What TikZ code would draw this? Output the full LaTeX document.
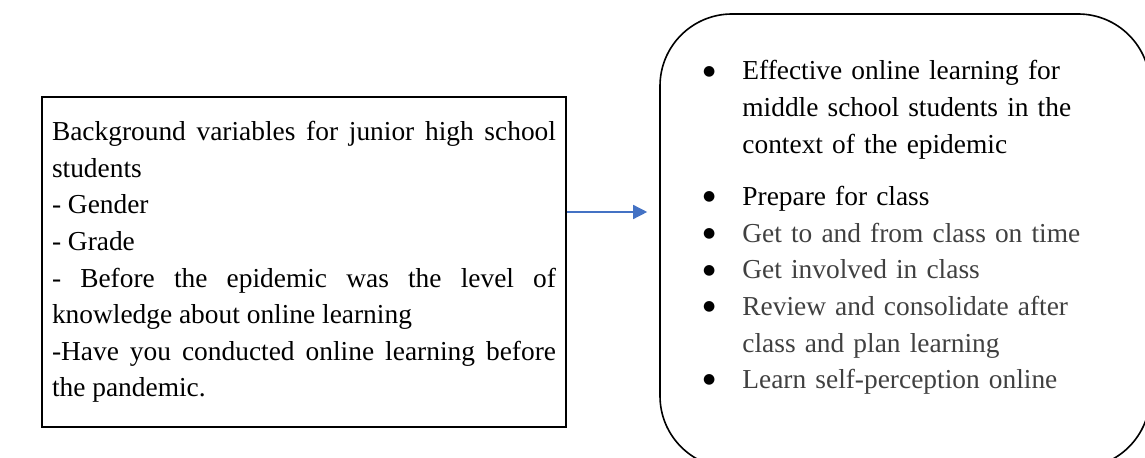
\documentclass[tikz,border=0pt]{standalone}
\usepackage{fontspec}
\setmainfont{Liberation Serif}
\newfontfamily\dotfont{DejaVu Sans}
\usetikzlibrary{arrows.meta}

\definecolor{arrowblue}{RGB}{68,114,196}
\definecolor{softgray}{RGB}{64,64,64}
\hyphenpenalty=10000
\exhyphenpenalty=10000

\newcommand{\bigdot}{\raisebox{2.4pt}{\dotfont\fontsize{7pt}{7pt}\selectfont ●}}
\newenvironment{dotlist}{\begin{list}{\bigdot}{\setlength{\leftmargin}{18.5pt}%
  \setlength{\labelwidth}{10pt}\setlength{\labelsep}{13.5pt}\setlength{\itemsep}{0pt}%
  \setlength{\parsep}{0pt}\setlength{\topsep}{0pt}\setlength{\partopsep}{0pt}}}{\end{list}}

\begin{document}
\begin{tikzpicture}[x=0.5pt,y=-0.5pt]
\tikzstyle{varbox}=[draw,line width=0.9pt,rectangle,minimum width=262pt,minimum height=165pt,
  text width=252pt,align=justify,font=\fontsize{13.7pt}{18.3pt}\selectfont]
\tikzstyle{resultbox}=[draw,line width=0.8pt,rectangle,rounded corners=36pt,minimum width=245pt,minimum height=227pt]
\tikzstyle{itemtext}=[anchor=north west,inner sep=0pt,text width=200pt,font=\fontsize{13.7pt}{18.3pt}\selectfont]
\tikzstyle{flow}=[draw=arrowblue,line width=0.7pt,-{Triangle[length=7pt,width=7pt]},shorten >=6pt]
\useasboundingbox (0,0) rectangle (1145,458);
\clip (0,0) rectangle (1145,458);

% background variables
\node[varbox] (inputs) at (304,262) {Background variables for junior high school students\\
- Gender\\
- Grade\\
- Before the epidemic was the level of knowledge about online learning\\
-Have you conducted online learning before the pandemic.};

% effective online learning
\node[resultbox] (outcomes) at (905,241) {};
\node[itemtext] (items) at (705,43) {\begin{dotlist}
\item Effective online learning for middle school students in the context of the epidemic\par\vspace{8pt}
\item Prepare for class
\item \textcolor{softgray}{Get to and from class on time}
\item \textcolor{softgray}{Get involved in class}
\item \textcolor{softgray}{Review and consolidate after class and plan learning}
\item \textcolor{softgray}{Learn self-perception online}
\end{dotlist}};

\draw[flow] ([yshift=25pt]inputs.east) -- ([yshift=25pt]inputs.east -| outcomes.west);
\end{tikzpicture}
\end{document}
